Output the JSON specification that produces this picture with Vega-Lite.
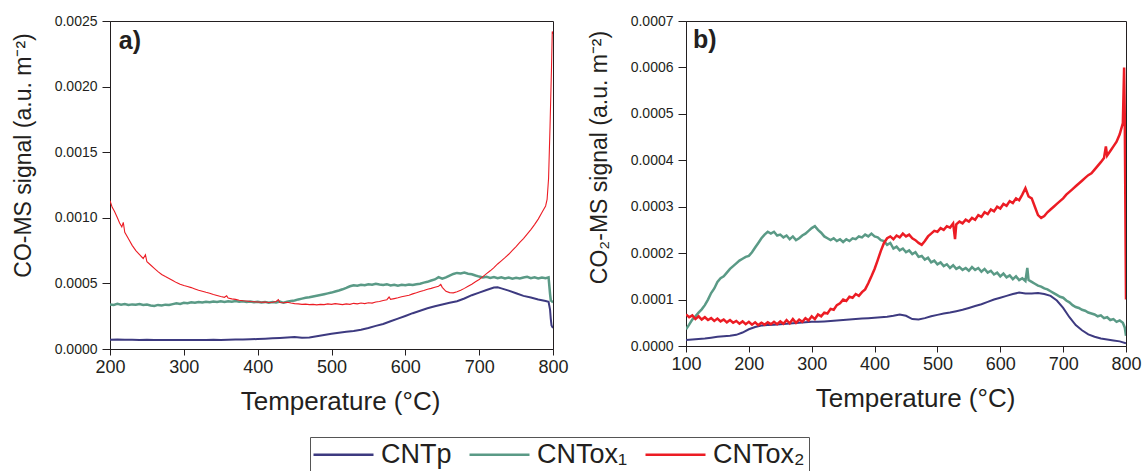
{
  "$schema": "https://vega.github.io/schema/vega-lite/v6.json",
  "padding": {"left": 11, "top": 13, "right": 0, "bottom": 0},
  "background": "white",
  "spacing": 18,
  "config": {
    "font": "Liberation Sans",
    "view": {"stroke": "#231f20", "strokeWidth": 1},
    "axis": {
      "grid": false,
      "domainColor": "#231f20",
      "tickColor": "#231f20",
      "labelColor": "#231f20",
      "titleColor": "#231f20",
      "labelFont": "Liberation Sans",
      "titleFont": "Liberation Sans",
      "titleFontWeight": "normal"
    },
    "axisX": {"labelFontSize": 18, "labelPadding": 3, "titleFontSize": 26, "titlePadding": 12, "labelFlush": false, "labelOverlap": false},
    "axisY": {"labelFontSize": 14, "tickSize": 8, "labelPadding": 5, "titleFontSize": 23, "titlePadding": 19, "format": ".4f", "labelOverlap": false},
    "legend": {
      "orient": "none",
      "legendX": 200,
      "legendY": 416,
      "direction": "horizontal",
      "columns": 3,
      "symbolType": "M-3,0H3",
      "symbolSize": 400,
      "symbolOffset": 16,
      "symbolStrokeWidth": 2.5,
      "labelFont": "Liberation Sans",
      "labelFontSize": 27,
      "labelColor": "#231f20",
      "labelOffset": 24,
      "labelLimit": 300,
      "columnPadding": 12,
      "padding": 4,
      "strokeColor": "#555555",
      "fillColor": "white"
    }
  },
  "datasets": {
    "coA": [
      {"s": "CNTp", "T": 200, "v": 0.000071}, {"s": "CNTp", "T": 210, "v": 0.000072}, {"s": "CNTp", "T": 220, "v": 0.000070},
      {"s": "CNTp", "T": 230, "v": 0.000071}, {"s": "CNTp", "T": 240, "v": 0.000069}, {"s": "CNTp", "T": 250, "v": 0.000070},
      {"s": "CNTp", "T": 260, "v": 0.000069}, {"s": "CNTp", "T": 270, "v": 0.000068}, {"s": "CNTp", "T": 280, "v": 0.000069},
      {"s": "CNTp", "T": 290, "v": 0.000068}, {"s": "CNTp", "T": 300, "v": 0.000069}, {"s": "CNTp", "T": 310, "v": 0.000068},
      {"s": "CNTp", "T": 320, "v": 0.000068}, {"s": "CNTp", "T": 330, "v": 0.000069}, {"s": "CNTp", "T": 340, "v": 0.000070},
      {"s": "CNTp", "T": 350, "v": 0.000069}, {"s": "CNTp", "T": 360, "v": 0.000071}, {"s": "CNTp", "T": 370, "v": 0.000072},
      {"s": "CNTp", "T": 380, "v": 0.000073}, {"s": "CNTp", "T": 390, "v": 0.000074}, {"s": "CNTp", "T": 400, "v": 0.000076},
      {"s": "CNTp", "T": 410, "v": 0.000078}, {"s": "CNTp", "T": 420, "v": 0.000081}, {"s": "CNTp", "T": 430, "v": 0.000084},
      {"s": "CNTp", "T": 440, "v": 0.000088}, {"s": "CNTp", "T": 450, "v": 0.000091}, {"s": "CNTp", "T": 460, "v": 0.000086},
      {"s": "CNTp", "T": 470, "v": 0.000088}, {"s": "CNTp", "T": 480, "v": 0.000097}, {"s": "CNTp", "T": 490, "v": 0.000106},
      {"s": "CNTp", "T": 500, "v": 0.000116}, {"s": "CNTp", "T": 510, "v": 0.000124}, {"s": "CNTp", "T": 520, "v": 0.000131},
      {"s": "CNTp", "T": 530, "v": 0.000138}, {"s": "CNTp", "T": 540, "v": 0.000147}, {"s": "CNTp", "T": 550, "v": 0.000160},
      {"s": "CNTp", "T": 560, "v": 0.000176}, {"s": "CNTp", "T": 570, "v": 0.000191}, {"s": "CNTp", "T": 580, "v": 0.000211},
      {"s": "CNTp", "T": 590, "v": 0.000232}, {"s": "CNTp", "T": 600, "v": 0.000252}, {"s": "CNTp", "T": 610, "v": 0.000273},
      {"s": "CNTp", "T": 620, "v": 0.000292}, {"s": "CNTp", "T": 630, "v": 0.000310}, {"s": "CNTp", "T": 640, "v": 0.000326},
      {"s": "CNTp", "T": 650, "v": 0.000339}, {"s": "CNTp", "T": 660, "v": 0.000352}, {"s": "CNTp", "T": 670, "v": 0.000364},
      {"s": "CNTp", "T": 680, "v": 0.000385}, {"s": "CNTp", "T": 690, "v": 0.000410}, {"s": "CNTp", "T": 700, "v": 0.000430},
      {"s": "CNTp", "T": 710, "v": 0.000450}, {"s": "CNTp", "T": 720, "v": 0.000468}, {"s": "CNTp", "T": 725, "v": 0.000470},
      {"s": "CNTp", "T": 730, "v": 0.000462}, {"s": "CNTp", "T": 740, "v": 0.000445}, {"s": "CNTp", "T": 750, "v": 0.000425},
      {"s": "CNTp", "T": 760, "v": 0.000405}, {"s": "CNTp", "T": 770, "v": 0.000392}, {"s": "CNTp", "T": 780, "v": 0.000378},
      {"s": "CNTp", "T": 790, "v": 0.000366}, {"s": "CNTp", "T": 794, "v": 0.000360}, {"s": "CNTp", "T": 796, "v": 0.000300},
      {"s": "CNTp", "T": 797, "v": 0.000230}, {"s": "CNTp", "T": 798, "v": 0.000180}, {"s": "CNTp", "T": 800, "v": 0.000160},

      {"s": "CNTox₁", "T": 200, "v": 0.000340}, {"s": "CNTox₁", "T": 205, "v": 0.000336}, {"s": "CNTox₁", "T": 210, "v": 0.000344},
      {"s": "CNTox₁", "T": 215, "v": 0.000338}, {"s": "CNTox₁", "T": 220, "v": 0.000342}, {"s": "CNTox₁", "T": 225, "v": 0.000335},
      {"s": "CNTox₁", "T": 230, "v": 0.000340}, {"s": "CNTox₁", "T": 235, "v": 0.000337}, {"s": "CNTox₁", "T": 240, "v": 0.000343},
      {"s": "CNTox₁", "T": 245, "v": 0.000336}, {"s": "CNTox₁", "T": 250, "v": 0.000339}, {"s": "CNTox₁", "T": 255, "v": 0.000332},
      {"s": "CNTox₁", "T": 260, "v": 0.000328}, {"s": "CNTox₁", "T": 265, "v": 0.000336}, {"s": "CNTox₁", "T": 270, "v": 0.000331},
      {"s": "CNTox₁", "T": 275, "v": 0.000338}, {"s": "CNTox₁", "T": 280, "v": 0.000335}, {"s": "CNTox₁", "T": 285, "v": 0.000342},
      {"s": "CNTox₁", "T": 290, "v": 0.000348}, {"s": "CNTox₁", "T": 295, "v": 0.000344}, {"s": "CNTox₁", "T": 300, "v": 0.000352},
      {"s": "CNTox₁", "T": 305, "v": 0.000349}, {"s": "CNTox₁", "T": 310, "v": 0.000356}, {"s": "CNTox₁", "T": 315, "v": 0.000352},
      {"s": "CNTox₁", "T": 320, "v": 0.000358}, {"s": "CNTox₁", "T": 325, "v": 0.000354}, {"s": "CNTox₁", "T": 330, "v": 0.000360},
      {"s": "CNTox₁", "T": 335, "v": 0.000356}, {"s": "CNTox₁", "T": 340, "v": 0.000362}, {"s": "CNTox₁", "T": 345, "v": 0.000358},
      {"s": "CNTox₁", "T": 350, "v": 0.000363}, {"s": "CNTox₁", "T": 355, "v": 0.000359}, {"s": "CNTox₁", "T": 360, "v": 0.000364},
      {"s": "CNTox₁", "T": 365, "v": 0.000360}, {"s": "CNTox₁", "T": 370, "v": 0.000365}, {"s": "CNTox₁", "T": 375, "v": 0.000361},
      {"s": "CNTox₁", "T": 380, "v": 0.000363}, {"s": "CNTox₁", "T": 385, "v": 0.000358}, {"s": "CNTox₁", "T": 390, "v": 0.000362},
      {"s": "CNTox₁", "T": 395, "v": 0.000356}, {"s": "CNTox₁", "T": 400, "v": 0.000360}, {"s": "CNTox₁", "T": 405, "v": 0.000354},
      {"s": "CNTox₁", "T": 410, "v": 0.000359}, {"s": "CNTox₁", "T": 415, "v": 0.000353}, {"s": "CNTox₁", "T": 420, "v": 0.000358},
      {"s": "CNTox₁", "T": 425, "v": 0.000355}, {"s": "CNTox₁", "T": 430, "v": 0.000361}, {"s": "CNTox₁", "T": 435, "v": 0.000352},
      {"s": "CNTox₁", "T": 440, "v": 0.000360}, {"s": "CNTox₁", "T": 445, "v": 0.000366}, {"s": "CNTox₁", "T": 450, "v": 0.000370},
      {"s": "CNTox₁", "T": 455, "v": 0.000378}, {"s": "CNTox₁", "T": 460, "v": 0.000384}, {"s": "CNTox₁", "T": 465, "v": 0.000390},
      {"s": "CNTox₁", "T": 470, "v": 0.000394}, {"s": "CNTox₁", "T": 475, "v": 0.000400}, {"s": "CNTox₁", "T": 480, "v": 0.000406},
      {"s": "CNTox₁", "T": 485, "v": 0.000412}, {"s": "CNTox₁", "T": 490, "v": 0.000418}, {"s": "CNTox₁", "T": 495, "v": 0.000424},
      {"s": "CNTox₁", "T": 500, "v": 0.000430}, {"s": "CNTox₁", "T": 505, "v": 0.000438}, {"s": "CNTox₁", "T": 510, "v": 0.000446},
      {"s": "CNTox₁", "T": 515, "v": 0.000455}, {"s": "CNTox₁", "T": 520, "v": 0.000466}, {"s": "CNTox₁", "T": 525, "v": 0.000478},
      {"s": "CNTox₁", "T": 530, "v": 0.000486}, {"s": "CNTox₁", "T": 535, "v": 0.000482}, {"s": "CNTox₁", "T": 540, "v": 0.000489},
      {"s": "CNTox₁", "T": 545, "v": 0.000486}, {"s": "CNTox₁", "T": 550, "v": 0.000494}, {"s": "CNTox₁", "T": 555, "v": 0.000490},
      {"s": "CNTox₁", "T": 560, "v": 0.000497}, {"s": "CNTox₁", "T": 565, "v": 0.000492}, {"s": "CNTox₁", "T": 570, "v": 0.000488},
      {"s": "CNTox₁", "T": 575, "v": 0.000494}, {"s": "CNTox₁", "T": 580, "v": 0.000484}, {"s": "CNTox₁", "T": 585, "v": 0.000490},
      {"s": "CNTox₁", "T": 590, "v": 0.000482}, {"s": "CNTox₁", "T": 595, "v": 0.000489}, {"s": "CNTox₁", "T": 600, "v": 0.000486},
      {"s": "CNTox₁", "T": 605, "v": 0.000492}, {"s": "CNTox₁", "T": 610, "v": 0.000488}, {"s": "CNTox₁", "T": 615, "v": 0.000494},
      {"s": "CNTox₁", "T": 620, "v": 0.000498}, {"s": "CNTox₁", "T": 625, "v": 0.000506}, {"s": "CNTox₁", "T": 630, "v": 0.000512},
      {"s": "CNTox₁", "T": 635, "v": 0.000522}, {"s": "CNTox₁", "T": 640, "v": 0.000530}, {"s": "CNTox₁", "T": 645, "v": 0.000548},
      {"s": "CNTox₁", "T": 650, "v": 0.000536}, {"s": "CNTox₁", "T": 655, "v": 0.000546}, {"s": "CNTox₁", "T": 660, "v": 0.000560},
      {"s": "CNTox₁", "T": 665, "v": 0.000572}, {"s": "CNTox₁", "T": 670, "v": 0.000580}, {"s": "CNTox₁", "T": 675, "v": 0.000576},
      {"s": "CNTox₁", "T": 680, "v": 0.000582}, {"s": "CNTox₁", "T": 685, "v": 0.000574}, {"s": "CNTox₁", "T": 690, "v": 0.000570},
      {"s": "CNTox₁", "T": 695, "v": 0.000560}, {"s": "CNTox₁", "T": 700, "v": 0.000552}, {"s": "CNTox₁", "T": 705, "v": 0.000546},
      {"s": "CNTox₁", "T": 710, "v": 0.000550}, {"s": "CNTox₁", "T": 715, "v": 0.000542}, {"s": "CNTox₁", "T": 720, "v": 0.000548},
      {"s": "CNTox₁", "T": 725, "v": 0.000540}, {"s": "CNTox₁", "T": 730, "v": 0.000546}, {"s": "CNTox₁", "T": 735, "v": 0.000538},
      {"s": "CNTox₁", "T": 740, "v": 0.000544}, {"s": "CNTox₁", "T": 745, "v": 0.000536}, {"s": "CNTox₁", "T": 750, "v": 0.000542},
      {"s": "CNTox₁", "T": 755, "v": 0.000537}, {"s": "CNTox₁", "T": 760, "v": 0.000545}, {"s": "CNTox₁", "T": 765, "v": 0.000550},
      {"s": "CNTox₁", "T": 770, "v": 0.000540}, {"s": "CNTox₁", "T": 775, "v": 0.000546}, {"s": "CNTox₁", "T": 780, "v": 0.000538},
      {"s": "CNTox₁", "T": 785, "v": 0.000544}, {"s": "CNTox₁", "T": 790, "v": 0.000540}, {"s": "CNTox₁", "T": 794, "v": 0.000546},
      {"s": "CNTox₁", "T": 796, "v": 0.000420}, {"s": "CNTox₁", "T": 797, "v": 0.000370}, {"s": "CNTox₁", "T": 800, "v": 0.000355},

      {"s": "CNTox₂", "T": 200, "v": 0.001130}, {"s": "CNTox₂", "T": 203, "v": 0.001080}, {"s": "CNTox₂", "T": 206, "v": 0.001050},
      {"s": "CNTox₂", "T": 210, "v": 0.001000}, {"s": "CNTox₂", "T": 213, "v": 0.000960}, {"s": "CNTox₂", "T": 216, "v": 0.000930},
      {"s": "CNTox₂", "T": 218, "v": 0.000965}, {"s": "CNTox₂", "T": 220, "v": 0.000890}, {"s": "CNTox₂", "T": 225, "v": 0.000840},
      {"s": "CNTox₂", "T": 230, "v": 0.000790}, {"s": "CNTox₂", "T": 235, "v": 0.000750}, {"s": "CNTox₂", "T": 240, "v": 0.000720},
      {"s": "CNTox₂", "T": 245, "v": 0.000690}, {"s": "CNTox₂", "T": 248, "v": 0.000718}, {"s": "CNTox₂", "T": 250, "v": 0.000665},
      {"s": "CNTox₂", "T": 255, "v": 0.000640}, {"s": "CNTox₂", "T": 260, "v": 0.000615}, {"s": "CNTox₂", "T": 265, "v": 0.000590},
      {"s": "CNTox₂", "T": 270, "v": 0.000568}, {"s": "CNTox₂", "T": 275, "v": 0.000552}, {"s": "CNTox₂", "T": 280, "v": 0.000538},
      {"s": "CNTox₂", "T": 285, "v": 0.000522}, {"s": "CNTox₂", "T": 290, "v": 0.000506}, {"s": "CNTox₂", "T": 295, "v": 0.000494},
      {"s": "CNTox₂", "T": 300, "v": 0.000484}, {"s": "CNTox₂", "T": 305, "v": 0.000476}, {"s": "CNTox₂", "T": 310, "v": 0.000468},
      {"s": "CNTox₂", "T": 315, "v": 0.000458}, {"s": "CNTox₂", "T": 320, "v": 0.000448}, {"s": "CNTox₂", "T": 325, "v": 0.000440},
      {"s": "CNTox₂", "T": 330, "v": 0.000432}, {"s": "CNTox₂", "T": 335, "v": 0.000425}, {"s": "CNTox₂", "T": 340, "v": 0.000416},
      {"s": "CNTox₂", "T": 345, "v": 0.000408}, {"s": "CNTox₂", "T": 350, "v": 0.000400}, {"s": "CNTox₂", "T": 355, "v": 0.000394},
      {"s": "CNTox₂", "T": 358, "v": 0.000405}, {"s": "CNTox₂", "T": 360, "v": 0.000388}, {"s": "CNTox₂", "T": 365, "v": 0.000382},
      {"s": "CNTox₂", "T": 370, "v": 0.000378}, {"s": "CNTox₂", "T": 375, "v": 0.000372}, {"s": "CNTox₂", "T": 380, "v": 0.000368},
      {"s": "CNTox₂", "T": 385, "v": 0.000366}, {"s": "CNTox₂", "T": 390, "v": 0.000362}, {"s": "CNTox₂", "T": 395, "v": 0.000360},
      {"s": "CNTox₂", "T": 400, "v": 0.000358}, {"s": "CNTox₂", "T": 405, "v": 0.000356}, {"s": "CNTox₂", "T": 410, "v": 0.000358},
      {"s": "CNTox₂", "T": 415, "v": 0.000354}, {"s": "CNTox₂", "T": 420, "v": 0.000356}, {"s": "CNTox₂", "T": 425, "v": 0.000362},
      {"s": "CNTox₂", "T": 428, "v": 0.000376}, {"s": "CNTox₂", "T": 430, "v": 0.000354}, {"s": "CNTox₂", "T": 435, "v": 0.000352},
      {"s": "CNTox₂", "T": 440, "v": 0.000356}, {"s": "CNTox₂", "T": 445, "v": 0.000350}, {"s": "CNTox₂", "T": 450, "v": 0.000346},
      {"s": "CNTox₂", "T": 455, "v": 0.000344}, {"s": "CNTox₂", "T": 460, "v": 0.000340}, {"s": "CNTox₂", "T": 465, "v": 0.000342},
      {"s": "CNTox₂", "T": 470, "v": 0.000338}, {"s": "CNTox₂", "T": 475, "v": 0.000340}, {"s": "CNTox₂", "T": 480, "v": 0.000336},
      {"s": "CNTox₂", "T": 485, "v": 0.000340}, {"s": "CNTox₂", "T": 490, "v": 0.000338}, {"s": "CNTox₂", "T": 495, "v": 0.000344},
      {"s": "CNTox₂", "T": 500, "v": 0.000340}, {"s": "CNTox₂", "T": 505, "v": 0.000346}, {"s": "CNTox₂", "T": 510, "v": 0.000342},
      {"s": "CNTox₂", "T": 515, "v": 0.000338}, {"s": "CNTox₂", "T": 520, "v": 0.000344}, {"s": "CNTox₂", "T": 525, "v": 0.000340},
      {"s": "CNTox₂", "T": 530, "v": 0.000348}, {"s": "CNTox₂", "T": 535, "v": 0.000344}, {"s": "CNTox₂", "T": 540, "v": 0.000350},
      {"s": "CNTox₂", "T": 545, "v": 0.000346}, {"s": "CNTox₂", "T": 550, "v": 0.000352}, {"s": "CNTox₂", "T": 555, "v": 0.000350},
      {"s": "CNTox₂", "T": 560, "v": 0.000358}, {"s": "CNTox₂", "T": 565, "v": 0.000362}, {"s": "CNTox₂", "T": 570, "v": 0.000370},
      {"s": "CNTox₂", "T": 575, "v": 0.000376}, {"s": "CNTox₂", "T": 578, "v": 0.000396}, {"s": "CNTox₂", "T": 580, "v": 0.000378},
      {"s": "CNTox₂", "T": 585, "v": 0.000384}, {"s": "CNTox₂", "T": 590, "v": 0.000390}, {"s": "CNTox₂", "T": 595, "v": 0.000398},
      {"s": "CNTox₂", "T": 600, "v": 0.000404}, {"s": "CNTox₂", "T": 605, "v": 0.000410}, {"s": "CNTox₂", "T": 610, "v": 0.000420},
      {"s": "CNTox₂", "T": 615, "v": 0.000428}, {"s": "CNTox₂", "T": 620, "v": 0.000438}, {"s": "CNTox₂", "T": 625, "v": 0.000446},
      {"s": "CNTox₂", "T": 630, "v": 0.000456}, {"s": "CNTox₂", "T": 635, "v": 0.000462}, {"s": "CNTox₂", "T": 640, "v": 0.000470},
      {"s": "CNTox₂", "T": 645, "v": 0.000478}, {"s": "CNTox₂", "T": 648, "v": 0.000492}, {"s": "CNTox₂", "T": 650, "v": 0.000470},
      {"s": "CNTox₂", "T": 655, "v": 0.000440}, {"s": "CNTox₂", "T": 660, "v": 0.000430}, {"s": "CNTox₂", "T": 665, "v": 0.000428},
      {"s": "CNTox₂", "T": 670, "v": 0.000436}, {"s": "CNTox₂", "T": 675, "v": 0.000448}, {"s": "CNTox₂", "T": 680, "v": 0.000462},
      {"s": "CNTox₂", "T": 685, "v": 0.000478}, {"s": "CNTox₂", "T": 690, "v": 0.000494}, {"s": "CNTox₂", "T": 695, "v": 0.000512},
      {"s": "CNTox₂", "T": 700, "v": 0.000530}, {"s": "CNTox₂", "T": 705, "v": 0.000552}, {"s": "CNTox₂", "T": 710, "v": 0.000574},
      {"s": "CNTox₂", "T": 715, "v": 0.000596}, {"s": "CNTox₂", "T": 720, "v": 0.000620}, {"s": "CNTox₂", "T": 725, "v": 0.000648},
      {"s": "CNTox₂", "T": 730, "v": 0.000672}, {"s": "CNTox₂", "T": 735, "v": 0.000696}, {"s": "CNTox₂", "T": 740, "v": 0.000722},
      {"s": "CNTox₂", "T": 745, "v": 0.000752}, {"s": "CNTox₂", "T": 750, "v": 0.000780}, {"s": "CNTox₂", "T": 755, "v": 0.000812},
      {"s": "CNTox₂", "T": 760, "v": 0.000842}, {"s": "CNTox₂", "T": 765, "v": 0.000876}, {"s": "CNTox₂", "T": 770, "v": 0.000910},
      {"s": "CNTox₂", "T": 775, "v": 0.000948}, {"s": "CNTox₂", "T": 780, "v": 0.000990}, {"s": "CNTox₂", "T": 785, "v": 0.001040},
      {"s": "CNTox₂", "T": 790, "v": 0.001090}, {"s": "CNTox₂", "T": 792, "v": 0.001140}, {"s": "CNTox₂", "T": 794, "v": 0.001300},
      {"s": "CNTox₂", "T": 796, "v": 0.001700}, {"s": "CNTox₂", "T": 798, "v": 0.002150}, {"s": "CNTox₂", "T": 799, "v": 0.002420},
      {"s": "CNTox₂", "T": 800, "v": 0.002400}
    ],
    "co2B": [
      {"s": "CNTp", "T": 100, "v": 0.000013}, {"s": "CNTp", "T": 110, "v": 0.000014}, {"s": "CNTp", "T": 120, "v": 0.000015},
      {"s": "CNTp", "T": 130, "v": 0.000016}, {"s": "CNTp", "T": 140, "v": 0.000018}, {"s": "CNTp", "T": 150, "v": 0.000020},
      {"s": "CNTp", "T": 160, "v": 0.000021}, {"s": "CNTp", "T": 170, "v": 0.000022}, {"s": "CNTp", "T": 180, "v": 0.000024},
      {"s": "CNTp", "T": 190, "v": 0.000029}, {"s": "CNTp", "T": 200, "v": 0.000036}, {"s": "CNTp", "T": 210, "v": 0.000041},
      {"s": "CNTp", "T": 220, "v": 0.000044}, {"s": "CNTp", "T": 230, "v": 0.000045}, {"s": "CNTp", "T": 240, "v": 0.000046},
      {"s": "CNTp", "T": 250, "v": 0.000047}, {"s": "CNTp", "T": 260, "v": 0.000048}, {"s": "CNTp", "T": 270, "v": 0.000049},
      {"s": "CNTp", "T": 280, "v": 0.000050}, {"s": "CNTp", "T": 290, "v": 0.000051}, {"s": "CNTp", "T": 300, "v": 0.000052},
      {"s": "CNTp", "T": 310, "v": 0.000052}, {"s": "CNTp", "T": 320, "v": 0.000053}, {"s": "CNTp", "T": 330, "v": 0.000054},
      {"s": "CNTp", "T": 340, "v": 0.000055}, {"s": "CNTp", "T": 350, "v": 0.000056}, {"s": "CNTp", "T": 360, "v": 0.000057},
      {"s": "CNTp", "T": 370, "v": 0.000058}, {"s": "CNTp", "T": 380, "v": 0.000059}, {"s": "CNTp", "T": 390, "v": 0.000060},
      {"s": "CNTp", "T": 400, "v": 0.000061}, {"s": "CNTp", "T": 410, "v": 0.000062}, {"s": "CNTp", "T": 420, "v": 0.000063},
      {"s": "CNTp", "T": 430, "v": 0.000065}, {"s": "CNTp", "T": 440, "v": 0.000068}, {"s": "CNTp", "T": 450, "v": 0.000065},
      {"s": "CNTp", "T": 460, "v": 0.000058}, {"s": "CNTp", "T": 470, "v": 0.000057}, {"s": "CNTp", "T": 480, "v": 0.000060},
      {"s": "CNTp", "T": 490, "v": 0.000064}, {"s": "CNTp", "T": 500, "v": 0.000067}, {"s": "CNTp", "T": 510, "v": 0.000070},
      {"s": "CNTp", "T": 520, "v": 0.000072}, {"s": "CNTp", "T": 530, "v": 0.000075}, {"s": "CNTp", "T": 540, "v": 0.000078},
      {"s": "CNTp", "T": 550, "v": 0.000082}, {"s": "CNTp", "T": 560, "v": 0.000086}, {"s": "CNTp", "T": 570, "v": 0.000090},
      {"s": "CNTp", "T": 580, "v": 0.000095}, {"s": "CNTp", "T": 590, "v": 0.000100}, {"s": "CNTp", "T": 600, "v": 0.000104},
      {"s": "CNTp", "T": 610, "v": 0.000108}, {"s": "CNTp", "T": 620, "v": 0.000112}, {"s": "CNTp", "T": 630, "v": 0.000115},
      {"s": "CNTp", "T": 640, "v": 0.000113}, {"s": "CNTp", "T": 650, "v": 0.000113}, {"s": "CNTp", "T": 660, "v": 0.000114},
      {"s": "CNTp", "T": 670, "v": 0.000112}, {"s": "CNTp", "T": 680, "v": 0.000108}, {"s": "CNTp", "T": 690, "v": 0.000098},
      {"s": "CNTp", "T": 700, "v": 0.000082}, {"s": "CNTp", "T": 710, "v": 0.000062}, {"s": "CNTp", "T": 720, "v": 0.000045},
      {"s": "CNTp", "T": 730, "v": 0.000034}, {"s": "CNTp", "T": 740, "v": 0.000025}, {"s": "CNTp", "T": 750, "v": 0.000020},
      {"s": "CNTp", "T": 760, "v": 0.000016}, {"s": "CNTp", "T": 770, "v": 0.000014}, {"s": "CNTp", "T": 780, "v": 0.000012},
      {"s": "CNTp", "T": 790, "v": 0.000010}, {"s": "CNTp", "T": 800, "v": 0.000006},

      {"s": "CNTox₁", "T": 100, "v": 0.000036}, {"s": "CNTox₁", "T": 105, "v": 0.000046}, {"s": "CNTox₁", "T": 110, "v": 0.000057},
      {"s": "CNTox₁", "T": 115, "v": 0.000064}, {"s": "CNTox₁", "T": 120, "v": 0.000072}, {"s": "CNTox₁", "T": 125, "v": 0.000079},
      {"s": "CNTox₁", "T": 130, "v": 0.000088}, {"s": "CNTox₁", "T": 135, "v": 0.000100}, {"s": "CNTox₁", "T": 140, "v": 0.000114},
      {"s": "CNTox₁", "T": 145, "v": 0.000124}, {"s": "CNTox₁", "T": 150, "v": 0.000138}, {"s": "CNTox₁", "T": 155, "v": 0.000146},
      {"s": "CNTox₁", "T": 160, "v": 0.000150}, {"s": "CNTox₁", "T": 165, "v": 0.000158}, {"s": "CNTox₁", "T": 170, "v": 0.000166},
      {"s": "CNTox₁", "T": 175, "v": 0.000172}, {"s": "CNTox₁", "T": 180, "v": 0.000178}, {"s": "CNTox₁", "T": 185, "v": 0.000184},
      {"s": "CNTox₁", "T": 190, "v": 0.000188}, {"s": "CNTox₁", "T": 195, "v": 0.000192}, {"s": "CNTox₁", "T": 200, "v": 0.000194},
      {"s": "CNTox₁", "T": 205, "v": 0.000202}, {"s": "CNTox₁", "T": 210, "v": 0.000212}, {"s": "CNTox₁", "T": 215, "v": 0.000222},
      {"s": "CNTox₁", "T": 220, "v": 0.000232}, {"s": "CNTox₁", "T": 225, "v": 0.000240}, {"s": "CNTox₁", "T": 230, "v": 0.000246},
      {"s": "CNTox₁", "T": 235, "v": 0.000242}, {"s": "CNTox₁", "T": 240, "v": 0.000246}, {"s": "CNTox₁", "T": 245, "v": 0.000238},
      {"s": "CNTox₁", "T": 250, "v": 0.000240}, {"s": "CNTox₁", "T": 255, "v": 0.000234}, {"s": "CNTox₁", "T": 260, "v": 0.000238},
      {"s": "CNTox₁", "T": 265, "v": 0.000230}, {"s": "CNTox₁", "T": 270, "v": 0.000236}, {"s": "CNTox₁", "T": 275, "v": 0.000228},
      {"s": "CNTox₁", "T": 280, "v": 0.000232}, {"s": "CNTox₁", "T": 285, "v": 0.000238}, {"s": "CNTox₁", "T": 290, "v": 0.000242},
      {"s": "CNTox₁", "T": 295, "v": 0.000248}, {"s": "CNTox₁", "T": 300, "v": 0.000254}, {"s": "CNTox₁", "T": 305, "v": 0.000258},
      {"s": "CNTox₁", "T": 310, "v": 0.000250}, {"s": "CNTox₁", "T": 315, "v": 0.000244}, {"s": "CNTox₁", "T": 320, "v": 0.000236},
      {"s": "CNTox₁", "T": 325, "v": 0.000232}, {"s": "CNTox₁", "T": 330, "v": 0.000228}, {"s": "CNTox₁", "T": 335, "v": 0.000232},
      {"s": "CNTox₁", "T": 340, "v": 0.000226}, {"s": "CNTox₁", "T": 345, "v": 0.000230}, {"s": "CNTox₁", "T": 350, "v": 0.000224},
      {"s": "CNTox₁", "T": 355, "v": 0.000230}, {"s": "CNTox₁", "T": 360, "v": 0.000226}, {"s": "CNTox₁", "T": 365, "v": 0.000232},
      {"s": "CNTox₁", "T": 370, "v": 0.000230}, {"s": "CNTox₁", "T": 375, "v": 0.000236}, {"s": "CNTox₁", "T": 380, "v": 0.000234},
      {"s": "CNTox₁", "T": 385, "v": 0.000240}, {"s": "CNTox₁", "T": 390, "v": 0.000236}, {"s": "CNTox₁", "T": 395, "v": 0.000242},
      {"s": "CNTox₁", "T": 400, "v": 0.000236}, {"s": "CNTox₁", "T": 405, "v": 0.000234}, {"s": "CNTox₁", "T": 410, "v": 0.000228},
      {"s": "CNTox₁", "T": 415, "v": 0.000226}, {"s": "CNTox₁", "T": 420, "v": 0.000218}, {"s": "CNTox₁", "T": 425, "v": 0.000222},
      {"s": "CNTox₁", "T": 430, "v": 0.000210}, {"s": "CNTox₁", "T": 435, "v": 0.000214}, {"s": "CNTox₁", "T": 440, "v": 0.000206},
      {"s": "CNTox₁", "T": 445, "v": 0.000210}, {"s": "CNTox₁", "T": 450, "v": 0.000202}, {"s": "CNTox₁", "T": 455, "v": 0.000206},
      {"s": "CNTox₁", "T": 460, "v": 0.000198}, {"s": "CNTox₁", "T": 465, "v": 0.000202}, {"s": "CNTox₁", "T": 470, "v": 0.000192},
      {"s": "CNTox₁", "T": 475, "v": 0.000194}, {"s": "CNTox₁", "T": 480, "v": 0.000186}, {"s": "CNTox₁", "T": 485, "v": 0.000190},
      {"s": "CNTox₁", "T": 490, "v": 0.000180}, {"s": "CNTox₁", "T": 495, "v": 0.000184}, {"s": "CNTox₁", "T": 500, "v": 0.000176},
      {"s": "CNTox₁", "T": 505, "v": 0.000180}, {"s": "CNTox₁", "T": 510, "v": 0.000172}, {"s": "CNTox₁", "T": 515, "v": 0.000176},
      {"s": "CNTox₁", "T": 520, "v": 0.000168}, {"s": "CNTox₁", "T": 525, "v": 0.000174}, {"s": "CNTox₁", "T": 530, "v": 0.000166},
      {"s": "CNTox₁", "T": 535, "v": 0.000170}, {"s": "CNTox₁", "T": 540, "v": 0.000164}, {"s": "CNTox₁", "T": 545, "v": 0.000168},
      {"s": "CNTox₁", "T": 550, "v": 0.000162}, {"s": "CNTox₁", "T": 555, "v": 0.000170}, {"s": "CNTox₁", "T": 560, "v": 0.000164},
      {"s": "CNTox₁", "T": 565, "v": 0.000168}, {"s": "CNTox₁", "T": 570, "v": 0.000160}, {"s": "CNTox₁", "T": 575, "v": 0.000166},
      {"s": "CNTox₁", "T": 580, "v": 0.000158}, {"s": "CNTox₁", "T": 585, "v": 0.000162}, {"s": "CNTox₁", "T": 590, "v": 0.000154},
      {"s": "CNTox₁", "T": 595, "v": 0.000158}, {"s": "CNTox₁", "T": 600, "v": 0.000150}, {"s": "CNTox₁", "T": 605, "v": 0.000156},
      {"s": "CNTox₁", "T": 610, "v": 0.000148}, {"s": "CNTox₁", "T": 615, "v": 0.000152}, {"s": "CNTox₁", "T": 620, "v": 0.000144},
      {"s": "CNTox₁", "T": 625, "v": 0.000150}, {"s": "CNTox₁", "T": 630, "v": 0.000142}, {"s": "CNTox₁", "T": 635, "v": 0.000146},
      {"s": "CNTox₁", "T": 640, "v": 0.000140}, {"s": "CNTox₁", "T": 643, "v": 0.000168}, {"s": "CNTox₁", "T": 645, "v": 0.000142},
      {"s": "CNTox₁", "T": 650, "v": 0.000138}, {"s": "CNTox₁", "T": 655, "v": 0.000134}, {"s": "CNTox₁", "T": 660, "v": 0.000130},
      {"s": "CNTox₁", "T": 665, "v": 0.000128}, {"s": "CNTox₁", "T": 670, "v": 0.000124}, {"s": "CNTox₁", "T": 675, "v": 0.000122},
      {"s": "CNTox₁", "T": 680, "v": 0.000118}, {"s": "CNTox₁", "T": 685, "v": 0.000114}, {"s": "CNTox₁", "T": 690, "v": 0.000110},
      {"s": "CNTox₁", "T": 695, "v": 0.000106}, {"s": "CNTox₁", "T": 700, "v": 0.000104}, {"s": "CNTox₁", "T": 705, "v": 0.000098},
      {"s": "CNTox₁", "T": 710, "v": 0.000094}, {"s": "CNTox₁", "T": 715, "v": 0.000088}, {"s": "CNTox₁", "T": 720, "v": 0.000084},
      {"s": "CNTox₁", "T": 725, "v": 0.000082}, {"s": "CNTox₁", "T": 730, "v": 0.000078}, {"s": "CNTox₁", "T": 735, "v": 0.000076},
      {"s": "CNTox₁", "T": 740, "v": 0.000072}, {"s": "CNTox₁", "T": 745, "v": 0.000070}, {"s": "CNTox₁", "T": 750, "v": 0.000068},
      {"s": "CNTox₁", "T": 755, "v": 0.000064}, {"s": "CNTox₁", "T": 760, "v": 0.000066}, {"s": "CNTox₁", "T": 765, "v": 0.000060},
      {"s": "CNTox₁", "T": 770, "v": 0.000062}, {"s": "CNTox₁", "T": 775, "v": 0.000056}, {"s": "CNTox₁", "T": 780, "v": 0.000058},
      {"s": "CNTox₁", "T": 785, "v": 0.000052}, {"s": "CNTox₁", "T": 790, "v": 0.000055}, {"s": "CNTox₁", "T": 795, "v": 0.000050},
      {"s": "CNTox₁", "T": 798, "v": 0.000040}, {"s": "CNTox₁", "T": 800, "v": 0.000022},

      {"s": "CNTox₂", "T": 100, "v": 0.000068}, {"s": "CNTox₂", "T": 105, "v": 0.000062}, {"s": "CNTox₂", "T": 110, "v": 0.000066},
      {"s": "CNTox₂", "T": 115, "v": 0.000058}, {"s": "CNTox₂", "T": 120, "v": 0.000064}, {"s": "CNTox₂", "T": 125, "v": 0.000057},
      {"s": "CNTox₂", "T": 130, "v": 0.000062}, {"s": "CNTox₂", "T": 135, "v": 0.000056}, {"s": "CNTox₂", "T": 140, "v": 0.000060},
      {"s": "CNTox₂", "T": 145, "v": 0.000054}, {"s": "CNTox₂", "T": 150, "v": 0.000059}, {"s": "CNTox₂", "T": 155, "v": 0.000053},
      {"s": "CNTox₂", "T": 160, "v": 0.000057}, {"s": "CNTox₂", "T": 165, "v": 0.000051}, {"s": "CNTox₂", "T": 170, "v": 0.000056},
      {"s": "CNTox₂", "T": 175, "v": 0.000050}, {"s": "CNTox₂", "T": 180, "v": 0.000054}, {"s": "CNTox₂", "T": 185, "v": 0.000048},
      {"s": "CNTox₂", "T": 190, "v": 0.000053}, {"s": "CNTox₂", "T": 195, "v": 0.000047}, {"s": "CNTox₂", "T": 200, "v": 0.000052},
      {"s": "CNTox₂", "T": 205, "v": 0.000046}, {"s": "CNTox₂", "T": 210, "v": 0.000051}, {"s": "CNTox₂", "T": 215, "v": 0.000045},
      {"s": "CNTox₂", "T": 220, "v": 0.000050}, {"s": "CNTox₂", "T": 225, "v": 0.000046}, {"s": "CNTox₂", "T": 230, "v": 0.000051},
      {"s": "CNTox₂", "T": 235, "v": 0.000047}, {"s": "CNTox₂", "T": 240, "v": 0.000052}, {"s": "CNTox₂", "T": 245, "v": 0.000047},
      {"s": "CNTox₂", "T": 250, "v": 0.000053}, {"s": "CNTox₂", "T": 255, "v": 0.000048}, {"s": "CNTox₂", "T": 260, "v": 0.000056},
      {"s": "CNTox₂", "T": 265, "v": 0.000049}, {"s": "CNTox₂", "T": 270, "v": 0.000058}, {"s": "CNTox₂", "T": 275, "v": 0.000050},
      {"s": "CNTox₂", "T": 280, "v": 0.000057}, {"s": "CNTox₂", "T": 285, "v": 0.000052}, {"s": "CNTox₂", "T": 290, "v": 0.000060},
      {"s": "CNTox₂", "T": 295, "v": 0.000055}, {"s": "CNTox₂", "T": 300, "v": 0.000064}, {"s": "CNTox₂", "T": 305, "v": 0.000058},
      {"s": "CNTox₂", "T": 310, "v": 0.000068}, {"s": "CNTox₂", "T": 315, "v": 0.000064}, {"s": "CNTox₂", "T": 320, "v": 0.000072},
      {"s": "CNTox₂", "T": 325, "v": 0.000070}, {"s": "CNTox₂", "T": 330, "v": 0.000080}, {"s": "CNTox₂", "T": 335, "v": 0.000078},
      {"s": "CNTox₂", "T": 340, "v": 0.000088}, {"s": "CNTox₂", "T": 345, "v": 0.000092}, {"s": "CNTox₂", "T": 350, "v": 0.000100},
      {"s": "CNTox₂", "T": 355, "v": 0.000097}, {"s": "CNTox₂", "T": 360, "v": 0.000106}, {"s": "CNTox₂", "T": 365, "v": 0.000104},
      {"s": "CNTox₂", "T": 370, "v": 0.000112}, {"s": "CNTox₂", "T": 375, "v": 0.000108}, {"s": "CNTox₂", "T": 380, "v": 0.000116},
      {"s": "CNTox₂", "T": 385, "v": 0.000122}, {"s": "CNTox₂", "T": 390, "v": 0.000135}, {"s": "CNTox₂", "T": 395, "v": 0.000150},
      {"s": "CNTox₂", "T": 400, "v": 0.000166}, {"s": "CNTox₂", "T": 405, "v": 0.000185}, {"s": "CNTox₂", "T": 410, "v": 0.000205},
      {"s": "CNTox₂", "T": 415, "v": 0.000222}, {"s": "CNTox₂", "T": 420, "v": 0.000232}, {"s": "CNTox₂", "T": 425, "v": 0.000236},
      {"s": "CNTox₂", "T": 430, "v": 0.000230}, {"s": "CNTox₂", "T": 435, "v": 0.000238}, {"s": "CNTox₂", "T": 440, "v": 0.000234},
      {"s": "CNTox₂", "T": 445, "v": 0.000242}, {"s": "CNTox₂", "T": 450, "v": 0.000236}, {"s": "CNTox₂", "T": 455, "v": 0.000240},
      {"s": "CNTox₂", "T": 460, "v": 0.000232}, {"s": "CNTox₂", "T": 465, "v": 0.000228}, {"s": "CNTox₂", "T": 470, "v": 0.000222},
      {"s": "CNTox₂", "T": 475, "v": 0.000218}, {"s": "CNTox₂", "T": 480, "v": 0.000226}, {"s": "CNTox₂", "T": 485, "v": 0.000236},
      {"s": "CNTox₂", "T": 490, "v": 0.000242}, {"s": "CNTox₂", "T": 495, "v": 0.000248}, {"s": "CNTox₂", "T": 500, "v": 0.000246},
      {"s": "CNTox₂", "T": 505, "v": 0.000254}, {"s": "CNTox₂", "T": 510, "v": 0.000250}, {"s": "CNTox₂", "T": 515, "v": 0.000258},
      {"s": "CNTox₂", "T": 520, "v": 0.000255}, {"s": "CNTox₂", "T": 525, "v": 0.000264}, {"s": "CNTox₂", "T": 528, "v": 0.000230},
      {"s": "CNTox₂", "T": 530, "v": 0.000262}, {"s": "CNTox₂", "T": 535, "v": 0.000268}, {"s": "CNTox₂", "T": 540, "v": 0.000264},
      {"s": "CNTox₂", "T": 545, "v": 0.000272}, {"s": "CNTox₂", "T": 550, "v": 0.000268}, {"s": "CNTox₂", "T": 555, "v": 0.000276},
      {"s": "CNTox₂", "T": 560, "v": 0.000272}, {"s": "CNTox₂", "T": 565, "v": 0.000282}, {"s": "CNTox₂", "T": 570, "v": 0.000278},
      {"s": "CNTox₂", "T": 575, "v": 0.000288}, {"s": "CNTox₂", "T": 580, "v": 0.000284}, {"s": "CNTox₂", "T": 585, "v": 0.000294},
      {"s": "CNTox₂", "T": 590, "v": 0.000290}, {"s": "CNTox₂", "T": 595, "v": 0.000300}, {"s": "CNTox₂", "T": 600, "v": 0.000296},
      {"s": "CNTox₂", "T": 605, "v": 0.000306}, {"s": "CNTox₂", "T": 610, "v": 0.000302}, {"s": "CNTox₂", "T": 615, "v": 0.000312},
      {"s": "CNTox₂", "T": 620, "v": 0.000308}, {"s": "CNTox₂", "T": 625, "v": 0.000318}, {"s": "CNTox₂", "T": 630, "v": 0.000314},
      {"s": "CNTox₂", "T": 635, "v": 0.000326}, {"s": "CNTox₂", "T": 640, "v": 0.000340}, {"s": "CNTox₂", "T": 645, "v": 0.000322},
      {"s": "CNTox₂", "T": 650, "v": 0.000318}, {"s": "CNTox₂", "T": 655, "v": 0.000300}, {"s": "CNTox₂", "T": 660, "v": 0.000282},
      {"s": "CNTox₂", "T": 665, "v": 0.000276}, {"s": "CNTox₂", "T": 670, "v": 0.000280}, {"s": "CNTox₂", "T": 675, "v": 0.000288},
      {"s": "CNTox₂", "T": 680, "v": 0.000294}, {"s": "CNTox₂", "T": 685, "v": 0.000300}, {"s": "CNTox₂", "T": 690, "v": 0.000306},
      {"s": "CNTox₂", "T": 695, "v": 0.000312}, {"s": "CNTox₂", "T": 700, "v": 0.000318}, {"s": "CNTox₂", "T": 705, "v": 0.000326},
      {"s": "CNTox₂", "T": 710, "v": 0.000332}, {"s": "CNTox₂", "T": 715, "v": 0.000338}, {"s": "CNTox₂", "T": 720, "v": 0.000344},
      {"s": "CNTox₂", "T": 725, "v": 0.000350}, {"s": "CNTox₂", "T": 730, "v": 0.000356}, {"s": "CNTox₂", "T": 735, "v": 0.000362},
      {"s": "CNTox₂", "T": 740, "v": 0.000368}, {"s": "CNTox₂", "T": 745, "v": 0.000372}, {"s": "CNTox₂", "T": 750, "v": 0.000380},
      {"s": "CNTox₂", "T": 755, "v": 0.000388}, {"s": "CNTox₂", "T": 760, "v": 0.000396}, {"s": "CNTox₂", "T": 765, "v": 0.000405},
      {"s": "CNTox₂", "T": 768, "v": 0.000430}, {"s": "CNTox₂", "T": 770, "v": 0.000410}, {"s": "CNTox₂", "T": 775, "v": 0.000420},
      {"s": "CNTox₂", "T": 780, "v": 0.000430}, {"s": "CNTox₂", "T": 785, "v": 0.000440}, {"s": "CNTox₂", "T": 790, "v": 0.000456},
      {"s": "CNTox₂", "T": 795, "v": 0.000480}, {"s": "CNTox₂", "T": 797, "v": 0.000600}, {"s": "CNTox₂", "T": 798, "v": 0.000500},
      {"s": "CNTox₂", "T": 799, "v": 0.000300}, {"s": "CNTox₂", "T": 800, "v": 0.000100}
    ]
  },
  "hconcat": [
    {
      "width": 443,
      "height": 328,
      "layer": [
        {
          "data": {"name": "coA"},
          "encoding": {
            "x": {
              "field": "T", "type": "quantitative",
              "scale": {"domain": [200, 800], "nice": false},
              "axis": {
                "title": "Temperature (°C)",
                "titleX": 230,
                "values": [200, 250, 300, 350, 400, 450, 500, 550, 600, 650, 700, 750, 800],
                "labelExpr": "datum.value % 100 === 0 ? datum.label : ''",
                "tickSize": {"condition": {"test": "datum.value % 100 === 0", "value": 6}, "value": 3}
              }
            },
            "y": {
              "field": "v", "type": "quantitative",
              "scale": {"domain": [0, 0.0025], "nice": false},
              "axis": {"title": "CO-MS signal (a.u. m⁻²)", "titleY": 134, "values": [0, 0.0005, 0.001, 0.0015, 0.002, 0.0025]}
            },
            "color": {
              "field": "s", "type": "nominal",
              "scale": {"domain": ["CNTp", "CNTox₁", "CNTox₂"], "range": ["#3d3a80", "#5a9a86", "#ec1c24"]},
              "legend": {"title": null}
            }
          },
          "layer": [
            {"transform": [{"filter": "datum.s === 'CNTp'"}], "mark": {"type": "line", "clip": true, "strokeWidth": 2}},
            {"transform": [{"filter": "datum.s === 'CNTox₁'"}], "mark": {"type": "line", "clip": true, "strokeWidth": 2.5}},
            {"transform": [{"filter": "datum.s === 'CNTox₂'"}], "mark": {"type": "line", "clip": true, "strokeWidth": 1.1}}
          ]
        },
        {
          "data": {"values": [{}]},
          "mark": {"type": "text", "text": "a)", "fontSize": 25, "fontWeight": "bold", "align": "left", "baseline": "middle", "color": "#231f20"},
          "encoding": {"x": {"datum": 212}, "y": {"datum": 0.00235}}
        }
      ]
    },
    {
      "width": 440,
      "height": 325,
      "layer": [
        {
          "data": {"name": "co2B"},
          "encoding": {
            "x": {
              "field": "T", "type": "quantitative",
              "scale": {"domain": [100, 800], "nice": false},
              "axis": {
                "title": "Temperature (°C)",
                "titleX": 229,
                "values": [100, 150, 200, 250, 300, 350, 400, 450, 500, 550, 600, 650, 700, 750, 800],
                "labelExpr": "datum.value % 100 === 0 ? datum.label : ''",
                "tickSize": {"condition": {"test": "datum.value % 100 === 0", "value": 6}, "value": 3}
              }
            },
            "y": {
              "field": "v", "type": "quantitative",
              "scale": {"domain": [0, 0.0007], "nice": false},
              "axis": {"title": "CO₂-MS signal (a.u. m⁻²)", "titleY": 136, "values": [0, 0.0001, 0.0002, 0.0003, 0.0004, 0.0005, 0.0006, 0.0007]}
            },
            "color": {
              "field": "s", "type": "nominal",
              "scale": {"domain": ["CNTp", "CNTox₁", "CNTox₂"], "range": ["#3d3a80", "#5a9a86", "#ec1c24"]},
              "legend": {"title": null}
            }
          },
          "layer": [
            {"transform": [{"filter": "datum.s === 'CNTp'"}], "mark": {"type": "line", "clip": true, "strokeWidth": 2}},
            {"transform": [{"filter": "datum.s === 'CNTox₁'"}], "mark": {"type": "line", "clip": true, "strokeWidth": 2.5}},
            {"transform": [{"filter": "datum.s === 'CNTox₂'"}], "mark": {"type": "line", "clip": true, "strokeWidth": 2.5}}
          ]
        },
        {
          "data": {"values": [{}]},
          "mark": {"type": "text", "text": "b)", "fontSize": 25, "fontWeight": "bold", "align": "left", "baseline": "middle", "color": "#231f20"},
          "encoding": {"x": {"datum": 111}, "y": {"datum": 0.00066}}
        }
      ]
    }
  ],
  "resolve": {"scale": {"x": "independent", "y": "independent"}}
}
